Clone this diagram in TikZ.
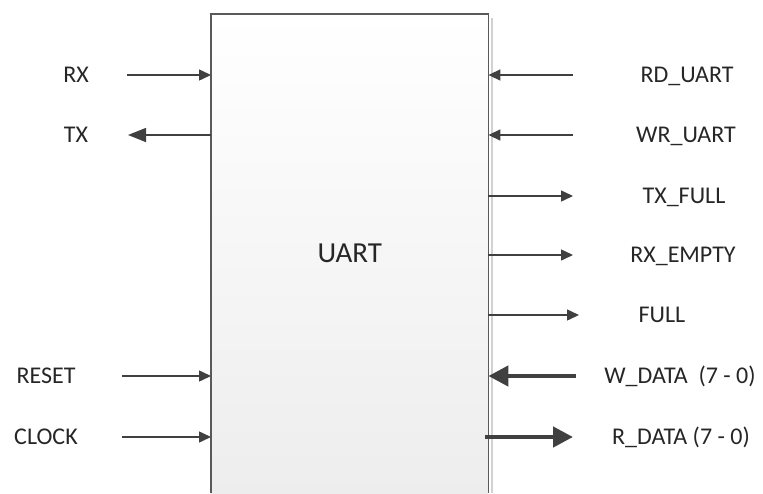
\documentclass[tikz,border=0pt]{standalone}
\usepackage{fontspec}
\setmainfont{Carlito}
\usetikzlibrary{arrows.meta}

\begin{document}
\begin{tikzpicture}[x=1pt,y=-1pt,
  box/.style={rectangle,anchor=north west,minimum width=277pt,minimum height=479pt,
    top color=white,bottom color=black!7,inner sep=0pt,
    font=\fontsize{29}{34}\selectfont,text=black!85},
  border/.style={draw=black!65,line width=1.6pt},
  sig/.style={draw=black!75,line width=1.5pt,-{Triangle[length=12pt,width=11pt]}},
  bus/.style={draw=black!75,line width=4.5pt,-{Triangle[length=20pt,width=20pt]}},
  lbl/.style={inner sep=0pt,text height=15pt,text depth=0pt,
    font=\fontsize{24}{28}\selectfont,text=black!85}]
  \useasboundingbox (0,0) rectangle (763,493);

  % the block
  \node (uart) [box] at (211,14) {UART};
  \draw[black!18,line width=2.5pt] ([xshift=3.5pt,yshift=-4pt]uart.north east) -- ([xshift=3.5pt]uart.south east);
  \draw[border] (uart.south west) -- (uart.north west) -- (uart.north east) -- (uart.south east);

  % free ends of the signals
  \coordinate (rx end) at (127,75);
  \coordinate (tx end) at (128,135);
  \coordinate (reset end) at (122,376);
  \coordinate (clock end) at (122,437);
  \coordinate (rd end) at (573,75);
  \coordinate (wr end) at (573,135);
  \coordinate (txfull end) at (573,196);
  \coordinate (rxempty end) at (573,255);
  \coordinate (full end) at (579,315);
  \coordinate (wdata end) at (576,376);
  \coordinate (rdata end) at (573,437);

  % left side
  \draw[sig] (rx end) -- (rx end -| uart.west);
  \draw[sig,-{Triangle[length=18pt,width=14pt]}] (tx end -| uart.west) -- (tx end);
  \draw[sig] (reset end) -- (reset end -| uart.west);
  \draw[sig] (clock end) -- (clock end -| uart.west);

  % right side
  \draw[sig] (rd end) -- (rd end -| uart.east);
  \draw[sig] (wr end) -- (wr end -| uart.east);
  \draw[sig] (txfull end -| uart.east) -- (txfull end);
  \draw[sig] (rxempty end -| uart.east) -- (rxempty end);
  \draw[sig] (full end -| uart.east) -- (full end);
  \draw[bus] (wdata end) -- (wdata end -| uart.east);
  \draw[bus] ([xshift=-3pt]rdata end -| uart.east) -- (rdata end);

  % labels
  \node (rx) [lbl] at (76,75) {RX};
  \node (tx) [lbl] at (76,135) {TX};
  \node (reset) [lbl] at (46,376) {RESET};
  \node (clock) [lbl] at (46,437) {CLOCK};
  \node (rd) [lbl] at (687,75) {RD\_UART};
  \node (wr) [lbl] at (686,135) {WR\_UART};
  \node (txfull) [lbl] at (684,196) {TX\_FULL};
  \node (rxempty) [lbl] at (683,255) {RX\_EMPTY};
  \node (full) [lbl] at (662,315) {FULL};
  \node (wdata) [lbl] at (680,376) {W\_DATA\ \ (7 - 0)};
  \node (rdata) [lbl] at (681,437) {R\_DATA (7 - 0)};
\end{tikzpicture}
\end{document}
